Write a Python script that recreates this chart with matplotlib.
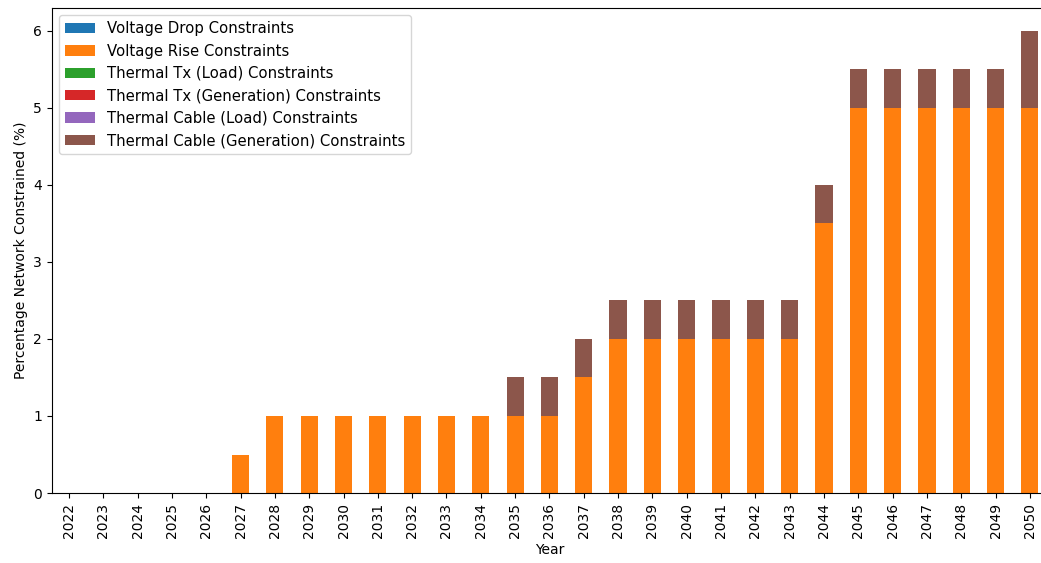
import matplotlib
matplotlib.use("Agg")
import matplotlib.pyplot as plt
import pandas as pd

# DATA
years = list(range(2022, 2051))
voltage_drop = [0] * 29
voltage_rise = [0, 0, 0, 0, 0, 0.5, 1, 1, 1, 1, 1, 1, 1, 1, 1, 1.5,
                2, 2, 2, 2, 2, 2, 3.5, 5, 5, 5, 5, 5, 5]
thermal_tx_load = [0] * 29
thermal_tx_gen = [0] * 29
thermal_cable_load = [0] * 29
thermal_cable_gen = [0, 0, 0, 0, 0, 0, 0, 0, 0, 0, 0, 0, 0, 0.5, 0.5, 0.5,
                     0.5, 0.5, 0.5, 0.5, 0.5, 0.5, 0.5, 0.5, 0.5, 0.5, 0.5, 0.5, 1]

df = pd.DataFrame({
    "Voltage Drop Constraints": voltage_drop,
    "Voltage Rise Constraints": voltage_rise,
    "Thermal Tx (Load) Constraints": thermal_tx_load,
    "Thermal Tx (Generation) Constraints": thermal_tx_gen,
    "Thermal Cable (Load) Constraints": thermal_cable_load,
    "Thermal Cable (Generation) Constraints": thermal_cable_gen,
}, index=years)

fig = plt.figure(figsize=(10.41, 5.63), dpi=100)
ax = fig.add_axes([0.0498, 0.1243, 0.956, 0.862])
df.plot(kind="bar", stacked=True, ax=ax)
ax.set_xlabel("Year")
ax.set_ylabel("Percentage Network Constrained (%)")
ax.legend(loc="upper left", fontsize=10.7)

fig.savefig("out.png", dpi=100)
